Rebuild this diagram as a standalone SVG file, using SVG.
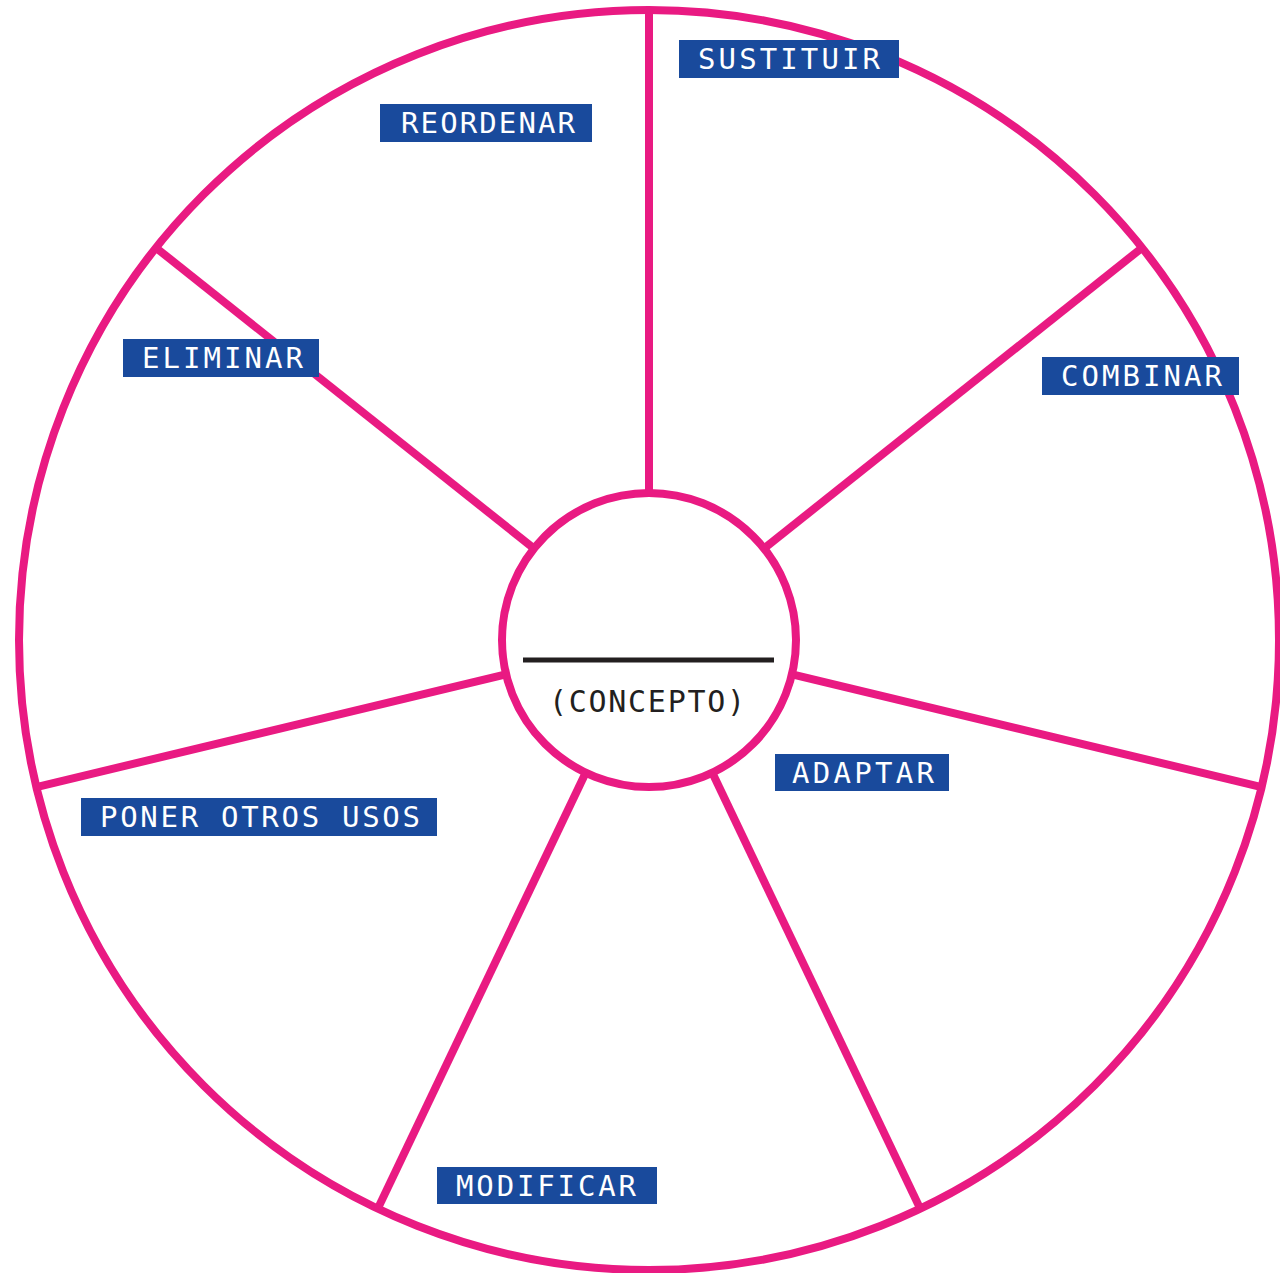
<svg xmlns="http://www.w3.org/2000/svg" width="1280" height="1273" viewBox="0 0 1280 1273">
  <style>
    .ring { fill: none; stroke: #e91a82; stroke-width: 8; }
    .hub { fill: #ffffff; stroke: #e91a82; stroke-width: 8; }
    .spoke { stroke: #e91a82; stroke-width: 8; stroke-linecap: butt; }
    .tag { fill: #194a9c; }
    .tag-text { fill: #ffffff; font-family: "DejaVu Sans Mono", "Liberation Mono", monospace; font-size: 29px; }
    .hub-text { fill: #231f20; font-family: "DejaVu Sans Mono", "Liberation Mono", monospace; font-size: 30px; }
  </style>
  <rect width="1280" height="1273" fill="#ffffff"/>

  <!-- outer wheel -->
  <g id="wheel">
    <circle class="ring" cx="649" cy="640" r="630"/>
  </g>

  <!-- seven spokes from the hub to the rim -->
  <g id="spokes">
    <line class="spoke" x1="649" y1="640" x2="649" y2="10"/>
    <line class="spoke" x1="649" y1="640" x2="1142" y2="247.8"/>
    <line class="spoke" x1="649" y1="640" x2="1261.6" y2="787.1"/>
    <line class="spoke" x1="649" y1="640" x2="920.2" y2="1208.6"/>
    <line class="spoke" x1="649" y1="640" x2="377.8" y2="1208.6"/>
    <line class="spoke" x1="649" y1="640" x2="36.4" y2="787.1"/>
    <line class="spoke" x1="649" y1="640" x2="156" y2="247.8"/>
  </g>

  <!-- central hub -->
  <g id="concepto">
    <circle class="hub" cx="649" cy="640" r="147"/>
    <line x1="523" y1="660" x2="774" y2="660" stroke="#231f20" stroke-width="5"/>
    <text class="hub-text" x="549" y="712" textLength="196" lengthAdjust="spacing">(CONCEPTO)</text>
  </g>

  <!-- sector labels -->
  <g id="sustituir">
    <rect class="tag" x="679" y="40" width="220" height="38"/>
    <text class="tag-text" x="698" y="69" textLength="182" lengthAdjust="spacing">SUSTITUIR</text>
  </g>
  <g id="combinar">
    <rect class="tag" x="1042" y="357" width="197" height="38"/>
    <text class="tag-text" x="1061" y="386" textLength="161" lengthAdjust="spacing">COMBINAR</text>
  </g>
  <g id="adaptar">
    <rect class="tag" x="775" y="754" width="174" height="37"/>
    <text class="tag-text" x="792" y="783" textLength="142" lengthAdjust="spacing">ADAPTAR</text>
  </g>
  <g id="modificar">
    <rect class="tag" x="437" y="1167" width="220" height="37"/>
    <text class="tag-text" x="456" y="1196" textLength="180" lengthAdjust="spacing">MODIFICAR</text>
  </g>
  <g id="poner-otros-usos">
    <rect class="tag" x="81" y="798" width="356" height="38"/>
    <text class="tag-text" x="100" y="827" textLength="320" lengthAdjust="spacing">PONER OTROS USOS</text>
  </g>
  <g id="eliminar">
    <rect class="tag" x="123" y="339" width="196" height="38"/>
    <text class="tag-text" x="142" y="368" textLength="161" lengthAdjust="spacing">ELIMINAR</text>
  </g>
  <g id="reordenar">
    <rect class="tag" x="380" y="104" width="212" height="38"/>
    <text class="tag-text" x="401" y="133" textLength="174" lengthAdjust="spacing">REORDENAR</text>
  </g>
</svg>
